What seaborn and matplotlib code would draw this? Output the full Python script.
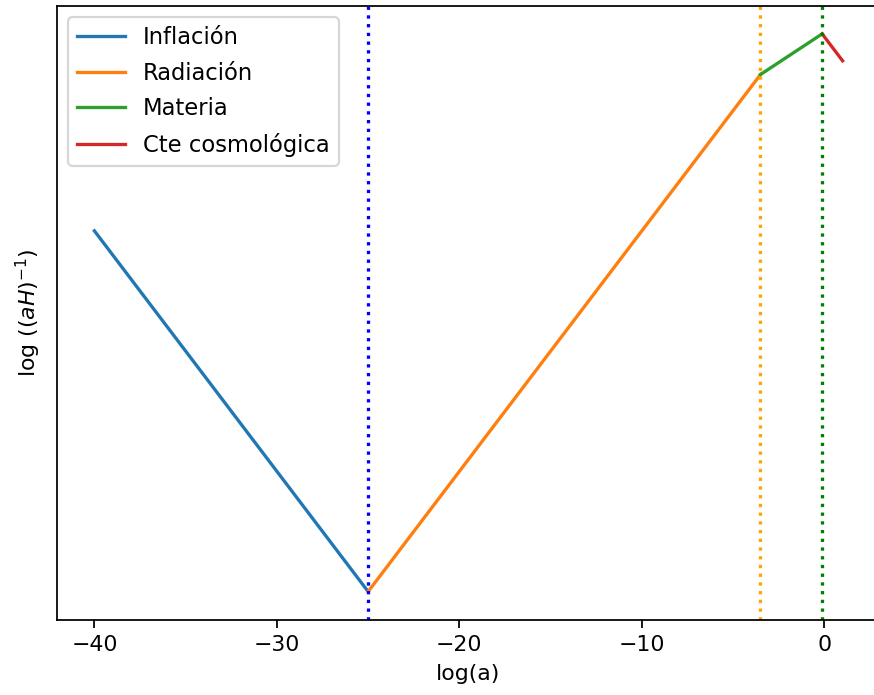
import matplotlib
matplotlib.use("Agg")
import matplotlib.pyplot as plt
import seaborn as sns
import pandas as pd

# Comoving Hubble radius through the cosmic epochs (log10 scale factor)
infl_log_a = [-40.0, -25.0]
infl_log_r = [15.0, 0.0]

rad_log_a = [-25.0, -3.5]
rad_log_r = [0.0, 21.5]

mat_log_a = [-3.5, -0.12]
mat_log_r = [21.5, 23.19]

lam_log_a = [-0.12, 1.0]
lam_log_r = [23.19, 22.07]

epoch_names = ["Inflación", "Radiación", "Materia", "Cte cosmológica"]
epoch_colors = ["C0", "C1", "C2", "C3"]

# Transitions between epochs
transitions = [-25.0, -3.5, -0.12]
transition_colors = ["blue", "orange", "green"]

DPI = 158
fig = plt.figure(figsize=(874 / DPI, 695 / DPI), dpi=DPI)
ax = fig.add_axes([57 / 874, (695 - 619.5) / 695, 823 / 874, 613.5 / 695])

segments = [
    (infl_log_a, infl_log_r),
    (rad_log_a, rad_log_r),
    (mat_log_a, mat_log_r),
    (lam_log_a, lam_log_r),
]
for (xs, ys), name, col in zip(segments, epoch_names, epoch_colors):
    df = pd.DataFrame({"log_a": xs, "log_r": ys})
    sns.lineplot(data=df, x="log_a", y="log_r", color=col, label=name, ax=ax)

for xv, col in zip(transitions, transition_colors):
    ax.axvline(xv, color=col, linestyle=":")

ax.set_xlabel("log(a)")
ax.set_ylabel(r"log $((aH)^{-1})$", labelpad=6.5)
ax.set_yticks([])
ax.legend(loc="upper left", fontsize=10.3, labelspacing=0.55,
          handlelength=2.1, borderpad=0.4)

fig.savefig("out.png", dpi=DPI)
